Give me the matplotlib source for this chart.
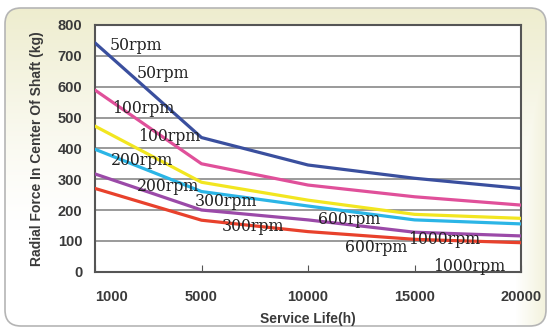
import numpy as np
import matplotlib
matplotlib.use("Agg")
import matplotlib.pyplot as plt
from matplotlib.patches import FancyBboxPatch

# service life ticks (equally spaced on the chart)
hours = ["1000", "5000", "10000", "15000", "20000"]

# radial force (kg)
rpm50 = [742, 435, 346, 303, 270]
rpm100 = [589, 350, 281, 243, 216]
rpm200 = [472, 290, 232, 186, 173]
rpm300 = [397, 260, 213, 168, 155]
rpm600 = [317, 200, 168, 128, 116]
rpm1000 = [270, 167, 130, 105, 94]

series = [rpm50, rpm100, rpm200, rpm300, rpm600, rpm1000]
colors = ["#3a4f9e", "#e0509a", "#f2e620", "#2bb5e6", "#9b4aa8", "#e8412c"]

# curve labels: (text, x index, y value)
labels = [
    ("50rpm", 0.14, 732), ("50rpm", 0.39, 644),
    ("100rpm", 0.16, 528), ("100rpm", 0.40, 440),
    ("200rpm", 0.15, 362), ("200rpm", 0.39, 275),
    ("300rpm", 0.94, 229), ("300rpm", 1.19, 145),
    ("600rpm", 2.09, 168), ("600rpm", 2.35, 80),
    ("1000rpm", 2.94, 103), ("1000rpm", 3.17, 18),
]

fig = plt.figure(figsize=(5.51, 3.29), dpi=100)
fig.patch.set_facecolor("white")

# rounded panel with beige gradient
bg = fig.add_axes([0, 0, 1, 1], zorder=-1)
bg.set_xlim(0, 551)
bg.set_ylim(329, 0)
bg.axis("off")
yy, xx = np.mgrid[0:329, 0:551]
w = np.clip(1 - yy / 230.0, 0, 1) ** 1.3
w = np.maximum(w, np.clip((xx - 515) / 35.0, 0, 1) * 0.8)
beige = np.array([0.93, 0.925, 0.80])
img = np.ones((329, 551, 3)) * (1 - w[..., None]) + beige * w[..., None]
panel = FancyBboxPatch((5, 8), 541, 318, boxstyle="round,pad=0,rounding_size=16",
                       fc="none", ec="#b5b5b5", lw=1.2)
bg.add_patch(panel)
im = bg.imshow(img, extent=(0, 551, 329, 0), aspect="auto")
im.set_clip_path(panel)

ax = fig.add_axes([95 / 551, 1 - 271.7 / 329, 426 / 551, 246.7 / 329])
ax.set_facecolor("white")
x = np.arange(len(hours))
for vals, c in zip(series, colors):
    ax.plot(x, vals, color=c, lw=2.3, solid_capstyle="round", zorder=3)

for text, lx, ly in labels:
    ax.text(lx, ly, text, family="DejaVu Serif", fontsize=11.3, color="#222222",
            va="center", ha="left", zorder=4)

ax.set_xlim(0, 4)
ax.set_ylim(0, 800)
ax.set_yticks(range(0, 801, 100))
ax.set_xticks(x)
ax.set_xticklabels(hours)
for gy in range(100, 800, 100):
    ax.axhline(gy, color="#9a9a9a", lw=1.4, zorder=1)

tick_font = dict(family="Liberation Sans", fontsize=10.5, weight="bold", color="#3a3a3a")
for lab in ax.get_xticklabels() + ax.get_yticklabels():
    lab.set(**tick_font)
ax.get_xticklabels()[0].set_ha("left")
ax.tick_params(axis="x", direction="in", length=5, color="#555555", pad=13)
ax.tick_params(axis="y", length=0, pad=9)
for s in ax.spines.values():
    s.set_color("#555555")
    s.set_linewidth(1.5)

ax.set_ylabel("Radial Force In Center Of Shaft (kg)", family="Liberation Sans",
              fontsize=10, weight="bold", color="#3a3a3a", labelpad=10)
ax.set_xlabel("Service Life(h)", family="Liberation Sans", fontsize=10,
              weight="bold", color="#3a3a3a", labelpad=6)

fig.savefig("out.png", dpi=100)
